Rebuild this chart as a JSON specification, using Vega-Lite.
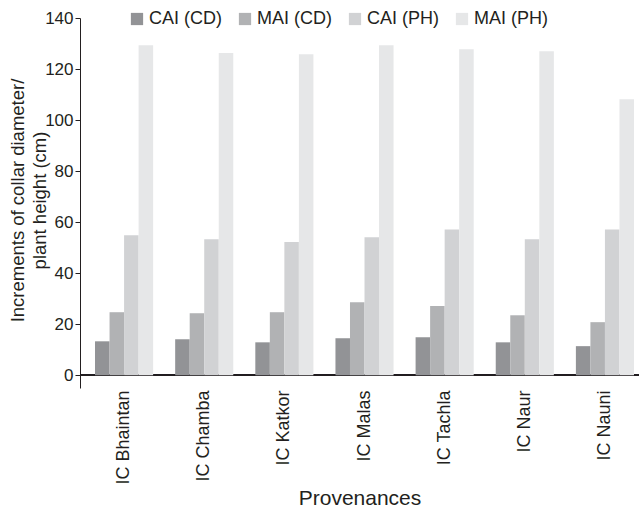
{
  "$schema": "https://vega.github.io/schema/vega-lite/v6.json",
  "width": 559,
  "height": 370,
  "autosize": {"type": "none"},
  "padding": {"left": 80, "top": 18, "right": 0, "bottom": 122},
  "config": {
    "view": {"stroke": null},
    "font": "Liberation Sans",
    "axis": {"labelColor": "#231f20", "titleColor": "#231f20", "domainColor": "#231f20", "tickColor": "#231f20", "grid": false, "titleFontWeight": "normal"},
    "legend": {"labelColor": "#231f20"}
  },
  "data": {
    "values": [
      {"prov": "IC Bhaintan", "series": "CAI (CD)", "value": 13.3},
      {"prov": "IC Bhaintan", "series": "MAI (CD)", "value": 24.7},
      {"prov": "IC Bhaintan", "series": "CAI (PH)", "value": 54.9},
      {"prov": "IC Bhaintan", "series": "MAI (PH)", "value": 129.3},
      {"prov": "IC Chamba", "series": "CAI (CD)", "value": 14.1},
      {"prov": "IC Chamba", "series": "MAI (CD)", "value": 24.3},
      {"prov": "IC Chamba", "series": "CAI (PH)", "value": 53.3},
      {"prov": "IC Chamba", "series": "MAI (PH)", "value": 126.3},
      {"prov": "IC Katkor", "series": "CAI (CD)", "value": 12.9},
      {"prov": "IC Katkor", "series": "MAI (CD)", "value": 24.7},
      {"prov": "IC Katkor", "series": "CAI (PH)", "value": 52.2},
      {"prov": "IC Katkor", "series": "MAI (PH)", "value": 125.8},
      {"prov": "IC Malas", "series": "CAI (CD)", "value": 14.5},
      {"prov": "IC Malas", "series": "MAI (CD)", "value": 28.6},
      {"prov": "IC Malas", "series": "CAI (PH)", "value": 54.1},
      {"prov": "IC Malas", "series": "MAI (PH)", "value": 129.3},
      {"prov": "IC Tachla", "series": "CAI (CD)", "value": 14.9},
      {"prov": "IC Tachla", "series": "MAI (CD)", "value": 27.1},
      {"prov": "IC Tachla", "series": "CAI (PH)", "value": 57.1},
      {"prov": "IC Tachla", "series": "MAI (PH)", "value": 127.8},
      {"prov": "IC Naur", "series": "CAI (CD)", "value": 12.9},
      {"prov": "IC Naur", "series": "MAI (CD)", "value": 23.5},
      {"prov": "IC Naur", "series": "CAI (PH)", "value": 53.3},
      {"prov": "IC Naur", "series": "MAI (PH)", "value": 127.0},
      {"prov": "IC Nauni", "series": "CAI (CD)", "value": 11.4},
      {"prov": "IC Nauni", "series": "MAI (CD)", "value": 20.8},
      {"prov": "IC Nauni", "series": "CAI (PH)", "value": 57.1},
      {"prov": "IC Nauni", "series": "MAI (PH)", "value": 108.2}
    ]
  },
  "layer": [
    {
      "mark": {"type": "rule", "color": "#231f20", "strokeWidth": 1.2},
      "encoding": {"y": {"datum": 0, "type": "quantitative", "scale": {"domain": [-5, 140]}}}
    },
    {
      "mark": {"type": "bar"},
      "encoding": {
        "x": {
          "field": "prov", "type": "nominal", "sort": null,
          "scale": {"paddingInner": 0.275, "paddingOuter": 0.125, "align": 0.75},
          "axis": {"title": "Provenances", "titleFontSize": 21, "labelFontSize": 18, "labelAngle": -90, "labelPadding": 2, "domain": false, "ticks": false, "titlePadding": 3}
        },
        "xOffset": {"field": "series", "type": "nominal", "sort": ["CAI (CD)", "MAI (CD)", "CAI (PH)", "MAI (PH)"], "scale": {"paddingInner": 0, "paddingOuter": 0}},
        "y": {
          "field": "value", "type": "quantitative",
          "scale": {"domain": [-5, 140], "nice": false, "zero": false},
          "axis": {"values": [0, 20, 40, 60, 80, 100, 120, 140], "title": ["Increments of collar diameter/", "plant height (cm)"], "titleFontSize": 18.5, "titleLineHeight": 22, "labelFontSize": 17, "tickSize": 5, "labelPadding": 2, "titlePadding": -5, "titleY": 182}
        },
        "color": {
          "field": "series", "type": "nominal",
          "scale": {"domain": ["CAI (CD)", "MAI (CD)", "CAI (PH)", "MAI (PH)"], "range": ["#929396", "#b1b2b4", "#d1d2d4", "#e6e7e8"]},
          "legend": {"title": null, "orient": "none", "direction": "horizontal", "legendX": 48, "legendY": -8, "symbolType": "square", "symbolSize": 150, "symbolStrokeWidth": 0, "labelFontSize": 18, "columnPadding": 14, "labelOffset": 3}
        }
      }
    }
  ]
}
